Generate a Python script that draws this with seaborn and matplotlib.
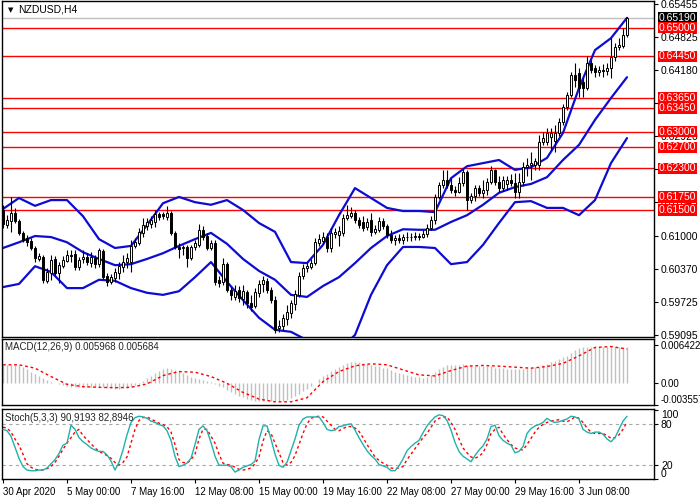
import numpy as np
import matplotlib
matplotlib.use("Agg")
import matplotlib.pyplot as plt
import seaborn as sns

# ====== data ======
symbol_title = "NZDUSD,H4"

opens = [
    0.6150, 0.6121, 0.6129, 0.6144, 0.6129, 0.6106, 0.6096, 0.6090, 0.6077, 0.6056,
    0.6060, 0.6014, 0.6029, 0.6056, 0.6029, 0.6042, 0.6052, 0.6063, 0.6065, 0.6040,
    0.6056, 0.6060, 0.6048, 0.6058, 0.6046, 0.6071, 0.6023, 0.6012, 0.6019, 0.6029,
    0.6040, 0.6050, 0.6050, 0.6081, 0.6086, 0.6106, 0.6119, 0.6123, 0.6127, 0.6142,
    0.6142, 0.6136, 0.6144, 0.6106, 0.6079, 0.6077, 0.6079, 0.6058, 0.6079, 0.6083,
    0.6112, 0.6100, 0.6077, 0.6086, 0.6016, 0.6012, 0.6046, 0.5996, 0.5983, 0.5996,
    0.5979, 0.5992, 0.5971, 0.5966, 0.5990, 0.6008, 0.6014, 0.5996, 0.5977, 0.5923,
    0.5927, 0.5941, 0.5952, 0.5969, 0.5987, 0.6023, 0.6039, 0.6040, 0.6048, 0.6086,
    0.6090, 0.6098, 0.6077, 0.6104, 0.6102, 0.6106, 0.6135, 0.6138, 0.6144, 0.6131,
    0.6127, 0.6117, 0.6130, 0.6108, 0.6112, 0.6129, 0.6119, 0.6102, 0.6092, 0.6096,
    0.6092, 0.6098, 0.6098, 0.6098, 0.6100, 0.6098, 0.6104, 0.6115, 0.6131, 0.6175,
    0.6198, 0.6208, 0.6198, 0.6188, 0.6184, 0.6202, 0.6223, 0.6169, 0.6177, 0.6192,
    0.6183, 0.6188, 0.6204, 0.6227, 0.6204, 0.6192, 0.6200, 0.6208, 0.6202, 0.6184,
    0.6204, 0.6232, 0.6236, 0.6236, 0.6236, 0.6280, 0.6280, 0.6290, 0.6282, 0.6298,
    0.6319, 0.6348, 0.6371, 0.6409, 0.6413, 0.6396, 0.6384, 0.6432, 0.6423, 0.6415,
    0.6419, 0.6417, 0.6423, 0.6444, 0.6463, 0.6465, 0.6486,
]
highs = [
    0.6160, 0.6140, 0.6175, 0.6154, 0.6133, 0.6110, 0.6102, 0.6096, 0.6081, 0.6067,
    0.6063, 0.6039, 0.6063, 0.6062, 0.6050, 0.6062, 0.6073, 0.6073, 0.6073, 0.6060,
    0.6073, 0.6067, 0.6069, 0.6063, 0.6077, 0.6075, 0.6029, 0.6027, 0.6039, 0.6050,
    0.6063, 0.6067, 0.6092, 0.6096, 0.6115, 0.6135, 0.6135, 0.6138, 0.6150, 0.6146,
    0.6146, 0.6158, 0.6148, 0.6110, 0.6086, 0.6083, 0.6083, 0.6083, 0.6092, 0.6123,
    0.6119, 0.6106, 0.6092, 0.6092, 0.6023, 0.6058, 0.6050, 0.6002, 0.6006, 0.6004,
    0.6006, 0.5996, 0.5987, 0.6000, 0.6016, 0.6023, 0.6019, 0.6002, 0.5985, 0.5939,
    0.5950, 0.5968, 0.5977, 0.5996, 0.6031, 0.6046, 0.6050, 0.6056, 0.6096, 0.6104,
    0.6108, 0.6106, 0.6115, 0.6115, 0.6119, 0.6142, 0.6160, 0.6156, 0.6150, 0.6136,
    0.6138, 0.6135, 0.6144, 0.6121, 0.6136, 0.6135, 0.6123, 0.6112, 0.6102, 0.6104,
    0.6104, 0.6108, 0.6106, 0.6108, 0.6106, 0.6112, 0.6123, 0.6138, 0.6181, 0.6204,
    0.6227, 0.6227, 0.6211, 0.6196, 0.6213, 0.6231, 0.6227, 0.6183, 0.6198, 0.6198,
    0.6208, 0.6211, 0.6234, 0.6229, 0.6215, 0.6215, 0.6215, 0.6219, 0.6221, 0.6221,
    0.6242, 0.6250, 0.6261, 0.6250, 0.6294, 0.6300, 0.6307, 0.6307, 0.6313, 0.6327,
    0.6353, 0.6377, 0.6415, 0.6432, 0.6423, 0.6403, 0.6446, 0.6438, 0.6428, 0.6426,
    0.6430, 0.6432, 0.6480, 0.6471, 0.6480, 0.6499, 0.6521,
]
lows = [
    0.6115, 0.6115, 0.6108, 0.6125, 0.6102, 0.6088, 0.6081, 0.6073, 0.6050, 0.6052,
    0.6010, 0.6010, 0.6016, 0.6025, 0.6010, 0.6039, 0.6050, 0.6050, 0.6035, 0.6035,
    0.6048, 0.6044, 0.6040, 0.6039, 0.6040, 0.6017, 0.6004, 0.6008, 0.6012, 0.6017,
    0.6031, 0.6039, 0.6031, 0.6077, 0.6083, 0.6098, 0.6112, 0.6115, 0.6117, 0.6131,
    0.6133, 0.6131, 0.6102, 0.6075, 0.6058, 0.6063, 0.6040, 0.6054, 0.6073, 0.6079,
    0.6092, 0.6073, 0.6073, 0.6006, 0.6002, 0.6006, 0.5992, 0.5977, 0.5977, 0.5973,
    0.5968, 0.5962, 0.5956, 0.5962, 0.5983, 0.5992, 0.5990, 0.5971, 0.5914, 0.5916,
    0.5919, 0.5929, 0.5942, 0.5958, 0.5983, 0.6017, 0.6031, 0.6037, 0.6044, 0.6081,
    0.6085, 0.6069, 0.6069, 0.6096, 0.6081, 0.6100, 0.6131, 0.6135, 0.6125, 0.6115,
    0.6110, 0.6112, 0.6100, 0.6104, 0.6108, 0.6113, 0.6096, 0.6086, 0.6083, 0.6086,
    0.6085, 0.6090, 0.6090, 0.6092, 0.6092, 0.6096, 0.6098, 0.6112, 0.6123, 0.6171,
    0.6192, 0.6192, 0.6183, 0.6177, 0.6183, 0.6196, 0.6150, 0.6163, 0.6167, 0.6177,
    0.6173, 0.6179, 0.6200, 0.6198, 0.6184, 0.6186, 0.6188, 0.6196, 0.6173, 0.6173,
    0.6196, 0.6215, 0.6208, 0.6227, 0.6227, 0.6275, 0.6275, 0.6265, 0.6261, 0.6292,
    0.6313, 0.6342, 0.6367, 0.6386, 0.6367, 0.6367, 0.6380, 0.6413, 0.6405, 0.6407,
    0.6405, 0.6409, 0.6403, 0.6436, 0.6457, 0.6461, 0.6482,
]
closes = [
    0.6123, 0.6131, 0.6144, 0.6129, 0.6106, 0.6092, 0.6088, 0.6077, 0.6058, 0.6062,
    0.6016, 0.6031, 0.6054, 0.6029, 0.6044, 0.6054, 0.6063, 0.6062, 0.6040, 0.6054,
    0.6060, 0.6050, 0.6060, 0.6046, 0.6073, 0.6021, 0.6012, 0.6021, 0.6031, 0.6042,
    0.6050, 0.6058, 0.6081, 0.6088, 0.6108, 0.6121, 0.6127, 0.6131, 0.6142, 0.6136,
    0.6138, 0.6144, 0.6106, 0.6079, 0.6075, 0.6079, 0.6058, 0.6079, 0.6086, 0.6112,
    0.6098, 0.6077, 0.6086, 0.6012, 0.6010, 0.6046, 0.5996, 0.5987, 0.5994, 0.5981,
    0.5994, 0.5971, 0.5964, 0.5992, 0.6008, 0.6016, 0.5996, 0.5977, 0.5919, 0.5927,
    0.5942, 0.5954, 0.5971, 0.5989, 0.6023, 0.6039, 0.6042, 0.6048, 0.6088, 0.6094,
    0.6098, 0.6077, 0.6106, 0.6108, 0.6110, 0.6135, 0.6140, 0.6144, 0.6131, 0.6121,
    0.6115, 0.6127, 0.6108, 0.6113, 0.6129, 0.6119, 0.6102, 0.6092, 0.6096, 0.6092,
    0.6098, 0.6098, 0.6098, 0.6100, 0.6098, 0.6104, 0.6115, 0.6131, 0.6175, 0.6198,
    0.6208, 0.6198, 0.6188, 0.6184, 0.6202, 0.6223, 0.6169, 0.6177, 0.6192, 0.6183,
    0.6188, 0.6204, 0.6227, 0.6204, 0.6192, 0.6208, 0.6208, 0.6202, 0.6184, 0.6204,
    0.6232, 0.6236, 0.6240, 0.6244, 0.6280, 0.6288, 0.6298, 0.6298, 0.6298, 0.6319,
    0.6348, 0.6371, 0.6409, 0.6400, 0.6384, 0.6384, 0.6432, 0.6419, 0.6415, 0.6419,
    0.6417, 0.6423, 0.6444, 0.6463, 0.6467, 0.6486, 0.6519,
]

# bollinger bands (20, 2), read every 4th bar
bb_upper = [
    0.6152, 0.6173, 0.6158, 0.6169, 0.6169, 0.6138, 0.6094, 0.6077, 0.6081, 0.6121,
    0.6163, 0.6175, 0.6165, 0.6160, 0.6169, 0.6150, 0.6125, 0.6108, 0.6050, 0.6048,
    0.6083, 0.6140, 0.6192, 0.6173, 0.6154, 0.6148, 0.6148, 0.6146, 0.6211, 0.6234,
    0.6240, 0.6246, 0.6227, 0.6232, 0.6250, 0.6298, 0.6384, 0.6457, 0.6480, 0.6519,
]
bb_middle = [
    0.6077, 0.6088, 0.6100, 0.6098, 0.6088, 0.6069, 0.6056, 0.6044, 0.6046, 0.6056,
    0.6067, 0.6081, 0.6094, 0.6106, 0.6085, 0.6056, 0.6033, 0.6016, 0.5987, 0.5983,
    0.6004, 0.6021, 0.6048, 0.6077, 0.6100, 0.6113, 0.6112, 0.6112, 0.6127, 0.6140,
    0.6160, 0.6183, 0.6194, 0.6200, 0.6213, 0.6246, 0.6275, 0.6323, 0.6365, 0.6405,
]
bb_lower = [
    0.6002, 0.6008, 0.6042, 0.6031, 0.6000, 0.6000, 0.6016, 0.6014, 0.6000, 0.5991,
    0.5987, 0.5994, 0.6021, 0.6050, 0.6012, 0.5977, 0.5943, 0.5920, 0.5916, 0.5900,
    0.5891, 0.5881, 0.5910, 0.5987, 0.6044, 0.6079, 0.6079, 0.6077, 0.6046, 0.6050,
    0.6083, 0.6125, 0.6165, 0.6167, 0.6154, 0.6154, 0.6140, 0.6169, 0.6240, 0.6288,
]

levels = [0.6500, 0.6445, 0.6365, 0.6345, 0.6300, 0.6270, 0.6230, 0.6175, 0.6150]
last_price = 0.65190
price_ticks = [0.65455, 0.64825, 0.64180, 0.63550, 0.62920, 0.62290,
               0.61645, 0.61000, 0.60370, 0.59725, 0.59095]
# these two scale labels sit fully under level boxes in the original
hidden_ticks = [0.63550, 0.62290]

macd_main = [
    0.00296, 0.00307, 0.00307, 0.00307, 0.00296, 0.00273, 0.00234, 0.00195, 0.00156, 0.00123,
    0.00084, 0.00050, 0.00028, 0.00006, -0.00017, -0.00033, -0.00045, -0.00056, -0.00061, -0.00061,
    -0.00067, -0.00061, -0.00056, -0.00061, -0.00061, -0.00067, -0.00078, -0.00084, -0.00089, -0.00095,
    -0.00084, -0.00073, -0.00056, -0.00033, -0.00006, 0.00039, 0.00084, 0.00128, 0.00179, 0.00212,
    0.00234, 0.00246, 0.00240, 0.00223, 0.00201, 0.00173, 0.00140, 0.00106, 0.00084, 0.00067,
    0.00050, 0.00033, 0.00017, -0.00017, -0.00045, -0.00067, -0.00106, -0.00140, -0.00173, -0.00206,
    -0.00234, -0.00262, -0.00279, -0.00290, -0.00296, -0.00290, -0.00290, -0.00296, -0.00301, -0.00301,
    -0.00290, -0.00273, -0.00246, -0.00212, -0.00173, -0.00134, -0.00095, -0.00050, 0.00006, 0.00067,
    0.00117, 0.00162, 0.00206, 0.00240, 0.00273, 0.00307, 0.00329, 0.00346, 0.00352, 0.00346,
    0.00335, 0.00324, 0.00307, 0.00290, 0.00279, 0.00262, 0.00246, 0.00218, 0.00195, 0.00173,
    0.00151, 0.00134, 0.00117, 0.00106, 0.00100, 0.00095, 0.00106, 0.00140, 0.00195, 0.00240,
    0.00273, 0.00296, 0.00307, 0.00307, 0.00307, 0.00312, 0.00296, 0.00290, 0.00290, 0.00290,
    0.00285, 0.00279, 0.00279, 0.00262, 0.00251, 0.00246, 0.00240, 0.00235, 0.00229, 0.00235,
    0.00240, 0.00246, 0.00257, 0.00268, 0.00275, 0.00300, 0.00325, 0.00350, 0.00378, 0.00405,
    0.00431, 0.00458, 0.00505, 0.00550, 0.00580, 0.00598, 0.00603, 0.00605, 0.00606, 0.00605,
    0.00604, 0.00603, 0.00601, 0.00600, 0.00599, 0.00598, 0.005968,
]
# signal line, read every 4th bar
macd_signal = [
    0.00307, 0.00307, 0.00251, 0.00112, -0.00017, -0.00056, -0.00067, -0.00073, -0.00067, -0.00011,
    0.00128, 0.00195, 0.00184, 0.00112, 0.00000, -0.00151, -0.00262, -0.00307, -0.00307, -0.00240,
    0.00028, 0.00195, 0.00290, 0.00324, 0.00307, 0.00223, 0.00140, 0.00123, 0.00212, 0.00285,
    0.00296, 0.00285, 0.00268, 0.00251, 0.00279, 0.00330, 0.00455, 0.00595, 0.00610, 0.005684,
]
macd_ticks = [0.006422, 0.0, -0.003557]
macd_tick_text = ["0.006422", "0.00", "-0.003557"]

stoch_k = [
    72, 70, 62, 46, 30, 18, 13, 12, 12, 13,
    13, 16, 22, 28, 37, 49, 52, 78, 72, 60,
    54, 50, 45, 42, 40, 40, 35, 26, 13, 24,
    42, 64, 82, 89, 91, 90, 88, 84, 82, 79,
    77, 70, 56, 33, 18, 20, 23, 30, 50, 72,
    77, 70, 53, 33, 20, 20, 20, 18, 10, 13,
    17, 19, 21, 26, 57, 77, 77, 58, 36, 20,
    17, 24, 41, 58, 78, 87, 90, 90, 90, 90,
    82, 72, 70, 71, 76, 77, 79, 80, 71, 60,
    50, 41, 34, 29, 21, 19, 17, 12, 12, 19,
    29, 41, 47, 52, 56, 67, 77, 84, 90, 93,
    92, 85, 71, 53, 40, 33, 29, 25, 34, 42,
    48, 58, 76, 78, 63, 56, 52, 49, 38, 40,
    47, 66, 73, 77, 79, 82, 88, 84, 82, 83,
    85, 87, 91, 90, 87, 72, 68, 66, 68, 68,
    65, 58, 54, 60, 72, 84, 90.9193,
]
stoch_d = [
    75, 74, 68, 58, 49, 36, 22, 17, 14, 13,
    13, 15, 18, 24, 33, 43, 52, 60, 68, 72,
    63, 57, 51, 45, 40, 37, 34, 30, 24, 20,
    24, 32, 52, 72, 85, 89, 90, 87, 84, 81,
    79, 76, 68, 50, 28, 24, 23, 28, 36, 58,
    72, 72, 62, 52, 36, 23, 21, 20, 17, 14,
    13, 14, 16, 22, 32, 55, 70, 66, 52, 38,
    24, 20, 24, 34, 50, 66, 80, 88, 90, 91,
    90, 84, 78, 72, 70, 73, 76, 76, 74, 69,
    60, 50, 41, 32, 27, 23, 20, 16, 15, 16,
    18, 28, 36, 44, 52, 60, 66, 75, 84, 88,
    90, 90, 82, 72, 58, 45, 38, 32, 30, 33,
    38, 50, 66, 72, 75, 65, 57, 50, 45, 43,
    42, 50, 59, 68, 75, 79, 82, 84, 85, 86,
    84, 83, 86, 90, 88, 82, 74, 68, 66, 66,
    66, 63, 59, 60, 64, 72, 82.8946,
]
stoch_levels = [80, 20]

date_labels = ["30 Apr 2020", "5 May 00:00", "7 May 16:00", "12 May 08:00",
               "15 May 00:00", "19 May 16:00", "22 May 08:00", "27 May 00:00",
               "29 May 16:00", "3 Jun 08:00"]
# =====================================

sns.set_style("white")
plt.rcParams['font.family'] = ['Liberation Sans', 'DejaVu Sans']

n = len(closes)
bars = np.arange(n)
band_x = bars[::4]
date_x = bars[::16][:len(date_labels)]

BLUE = "#0c0cd2"
SILVER = "#c0c0c0"

W, H = 700, 500
fig = plt.figure(figsize=(7, 5), dpi=100)
ax_main = fig.add_axes([2 / W, 1 - 337 / H, 652 / W, 336 / H])
ax_macd = fig.add_axes([2 / W, 1 - 405 / H, 652 / W, 66 / H], sharex=ax_main)
ax_sto = fig.add_axes([2 / W, 1 - 479 / H, 652 / W, 70 / H], sharex=ax_main)

for ax in (ax_main, ax_macd, ax_sto):
    for sp in ax.spines.values():
        sp.set_color("black")
        sp.set_linewidth(1.0)
    ax.yaxis.tick_right()
    ax.tick_params(axis="y", direction="out", length=3, width=0.8, pad=2,
                   labelsize=7.5, colors="black")
    ax.tick_params(axis="x", bottom=False, labelbottom=False)

# ---- main price panel ----
ax_main.axhline(last_price, color=SILVER, lw=1.0, zorder=1)
for lv in levels:
    ax_main.axhline(lv, color="red", lw=1.0, zorder=1)

sns.lineplot(x=band_x, y=bb_upper, ax=ax_main, color=BLUE, lw=1.6, zorder=2)
sns.lineplot(x=band_x, y=bb_middle, ax=ax_main, color=BLUE, lw=1.6, zorder=2)
sns.lineplot(x=band_x, y=bb_lower, ax=ax_main, color=BLUE, lw=1.6, zorder=2)

o = np.array(opens)
c = np.array(closes)
face = ["white" if cc >= oo else "black" for oo, cc in zip(o, c)]
ax_main.vlines(bars, lows, highs, color="black", lw=0.8, zorder=3)
ax_main.bar(bars, c - o, bottom=o, width=0.62, color=face, edgecolor="black",
            lw=0.7, zorder=4)

ax_main.set_xlim(-0.25, 162.75)
ax_main.set_ylim(0.59061, 0.65513)
ax_main.set_yticks(price_ticks)
ax_main.set_yticklabels(["" if v in hidden_ticks else f"{v:.5f}" for v in price_ticks])

# price labels on the right scale
box_kw = dict(xycoords=ax_main.get_yaxis_transform(), xytext=(5, 0),
              textcoords="offset pixels", va="center", ha="left", fontsize=7.5,
              color="white", annotation_clip=False)
ax_main.annotate(f"{last_price:.5f}", xy=(1, last_price), zorder=6,
                 bbox=dict(boxstyle="square,pad=0.06", fc="black", ec="none"),
                 **box_kw)
for lv in levels:
    ax_main.annotate(f"{lv:.5f}", xy=(1, lv), zorder=7,
                     bbox=dict(boxstyle="square,pad=0.06", fc="#ff0000", ec="none"),
                     **box_kw)

fig.text(8 / W, 1 - 10 / H, "\u25bc", fontsize=5, va="center", ha="left",
         family=["DejaVu Sans"], color="black")
fig.text(18 / W, 1 - 10 / H, symbol_title, fontsize=7.5, va="center", ha="left",
         color="black")

# ---- MACD panel ----
ax_macd.vlines(bars, 0, macd_main, color=SILVER, lw=1.0, zorder=2)
sns.lineplot(x=band_x, y=macd_signal, ax=ax_macd, color="red", lw=1.0,
             linestyle=(0, (2, 2)), zorder=3)
ax_macd.set_ylim(-0.0036, 0.00735)
ax_macd.set_yticks(macd_ticks)
ax_macd.set_yticklabels(macd_tick_text)
ax_macd.tick_params(axis="y", labelsize=7)
ax_macd.get_yticklabels()[2].set_va("bottom")
ax_macd.text(0.005, 0.88, f"MACD(12,26,9) {macd_main[-1]:.6f} {macd_signal[-1]:.6f}",
             transform=ax_macd.transAxes, fontsize=7, va="center", ha="left")

# ---- Stochastic panel ----
for lv in stoch_levels:
    ax_sto.axhline(lv, color="#a8a8a8", lw=0.8, ls=(0, (3, 3)), zorder=1)
sns.lineplot(x=bars, y=stoch_k, ax=ax_sto, color="#20b2aa", lw=1.0, zorder=3)
sns.lineplot(x=bars, y=stoch_d, ax=ax_sto, color="red", lw=1.0,
             linestyle=(0, (2, 2)), zorder=2)
ax_sto.set_ylim(0, 101.5)
ax_sto.set_yticks([100, 80, 20, 0])
ax_sto.set_yticklabels(["100", "80", "20", "0"])
ax_sto.get_yticklabels()[0].set_va("top")
ax_sto.get_yticklabels()[3].set_va("bottom")
k_txt = f"{stoch_k[-1]:.4f}".replace(".", ",")
d_txt = f"{stoch_d[-1]:.4f}".replace(".", ",")
ax_sto.text(0.005, 0.87, f"Stoch(5,3,3) {k_txt} {d_txt}", transform=ax_sto.transAxes,
            fontsize=7, va="center", ha="left")

ax_sto.tick_params(axis="x", bottom=True, labelbottom=True, direction="out",
                   length=3, width=0.8, pad=3, labelsize=7, colors="black")
ax_sto.set_xticks(date_x)
ax_sto.set_xticklabels(date_labels)
for t in ax_sto.get_xticklabels():
    t.set_ha("left")

for ax in (ax_main, ax_macd, ax_sto):
    ax.set_xlabel("")
    ax.set_ylabel("")

fig.savefig("out.png", dpi=100)
